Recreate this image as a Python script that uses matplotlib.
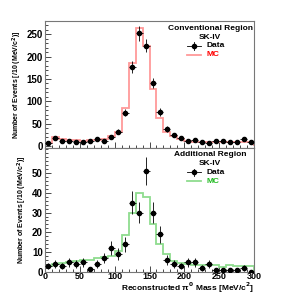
import numpy as np
import matplotlib
matplotlib.use('Agg')
import matplotlib.pyplot as plt
from matplotlib.ticker import MultipleLocator, FixedLocator

plt.rcParams['font.family'] = ['Liberation Sans', 'DejaVu Sans']
plt.rcParams['font.weight'] = 'bold'
plt.rcParams['axes.labelweight'] = 'bold'

# bins: 0-300 MeV/c^2, 10 MeV/c^2 wide
edges = np.arange(0, 301, 10)
centers = edges[:-1] + 5

# Conventional region (top)
data_conv = [6, 18, 12, 11, 8, 9, 12, 16, 12, 21, 32, 75, 177, 252, 225,
             141, 76, 38, 25, 18, 11, 14, 8, 7, 11, 12, 8, 9, 16, 9]
mc_conv = [7, 20, 15, 13, 13, 12, 13, 14, 15, 22, 31, 84, 186, 265, 225,
           127, 62, 31, 23, 16, 12, 10, 10, 9, 9, 9, 9, 8, 8, 8]

# Additional region (bottom)
data_add = [3, 4, 3, 5, 4, 5, 1.5, 4, 7, 12, 9, 14, 35, 30, 51,
            30, 19, 6, 4, 3, 5, 5, 2, 4, 1, 1, 1, 1, 2, 0]
mc_add = [3, 4, 4.5, 5, 5.5, 6, 6, 7, 7.5, 8, 10.5, 18.5, 30, 40, 38,
          24, 14, 9, 5.5, 4.4, 4, 3.5, 3.5, 3.5, 3.5, 2.5, 3.5, 3, 3, 3]

fig = plt.figure(figsize=(2.99, 2.94), dpi=100)
ax1 = fig.add_axes([0.1505, 1 - 148 / 294, 0.699, 127 / 294])
ax2 = fig.add_axes([0.1505, 1 - 272 / 294, 0.699, 124 / 294])


def draw_panel(ax, data, mc, mc_color, text_color, title, ylim, yticks, minor):
    data = np.array(data, dtype=float)
    ax.stairs(mc, edges, color=mc_color, lw=1.3, zorder=2)
    ax.errorbar(centers, data, yerr=np.sqrt(data), xerr=5, fmt='o', color='black',
                ms=3, elinewidth=0.6, capsize=0, zorder=3)
    ax.set_xlim(0, 300)
    ax.set_ylim(*ylim)
    ax.xaxis.set_major_locator(MultipleLocator(50))
    ax.xaxis.set_minor_locator(MultipleLocator(10))
    ax.yaxis.set_major_locator(FixedLocator(yticks))
    ax.yaxis.set_minor_locator(MultipleLocator(minor))
    ax.tick_params(which='both', direction='in', labelsize=7, width=0.5, pad=1.5)
    ax.tick_params(axis='x', pad=0)
    ax.tick_params(which='major', length=4)
    ax.tick_params(which='minor', length=2)
    for s in ax.spines.values():
        s.set_color('#777777')
        s.set_linewidth(0.8)
    ax.set_ylabel('Number of Events [/10 (MeV/c$^2$)]', fontsize=5, labelpad=2)

    # legend block
    tr = ax.transAxes
    ax.text(0.79, 0.944, title, transform=tr, ha='center', va='center', fontsize=6)
    ax.text(0.79, 0.873, 'SK-IV', transform=tr, ha='center', va='center', fontsize=6)
    ax.plot([0.68, 0.745], [0.804, 0.804], transform=tr, color='black', lw=0.6)
    ax.plot([0.7125], [0.804], 'o', transform=tr, color='black', ms=3)
    ax.plot([0.7125, 0.7125], [0.774, 0.834], transform=tr, color='black', lw=0.6)
    ax.text(0.775, 0.804, 'Data', transform=tr, ha='left', va='center', fontsize=6)
    ax.plot([0.68, 0.745], [0.733, 0.733], transform=tr, color=mc_color, lw=1.3)
    ax.text(0.775, 0.733, 'MC', transform=tr, ha='left', va='center', fontsize=6,
            color=text_color)


draw_panel(ax1, data_conv, mc_conv, '#ff9a9a', '#ff0000', 'Conventional Region',
           (-4.5, 280), [0, 50, 100, 150, 200, 250], 10)
ax1.tick_params(labelbottom=False)

draw_panel(ax2, data_add, mc_add, '#8fdc8f', '#22bb22', 'Additional Region',
           (0, 62.6), [0, 10, 20, 30, 40, 50], 2)
ax2.tick_params(axis='x', labelsize=6.5)
ax2.set_xlabel(r'Reconstructed π$^0$ Mass [MeV/c$^2$]', fontsize=6)
ax2.xaxis.set_label_coords(1.0, -0.128)
ax2.xaxis.label.set_ha('right')
ax2.xaxis.label.set_va('center')

fig.savefig('out.png', dpi=100)
